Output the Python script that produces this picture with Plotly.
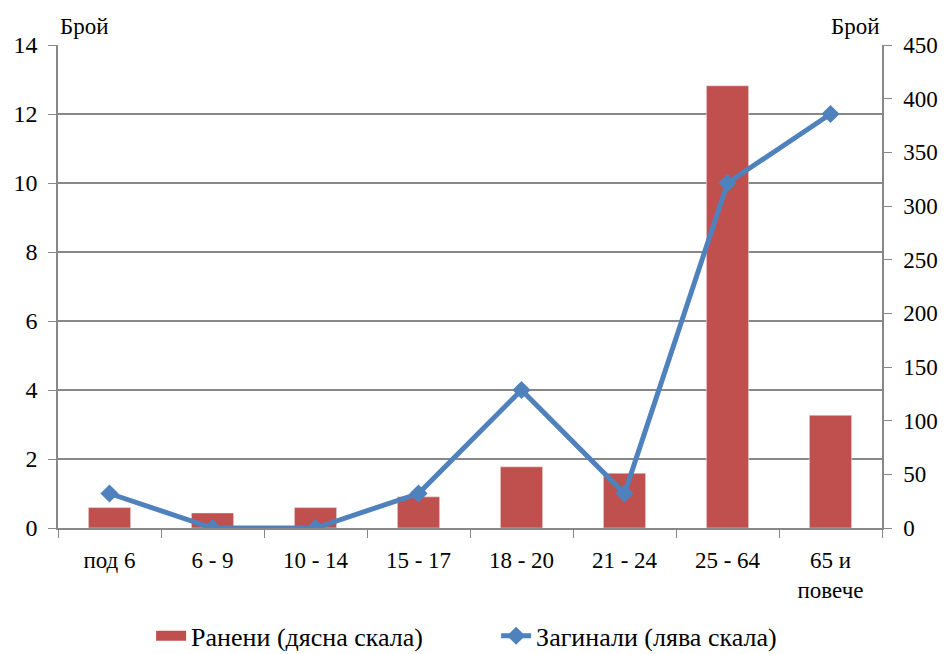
import plotly.graph_objects as go

categories = ["под 6", "6 - 9", "10 - 14", "15 - 17", "18 - 20", "21 - 24", "25 - 64", "65 и<br>повече"]
injured = [19, 14, 19, 29, 57, 51, 412, 105]   # Ранени (right scale)
killed = [1, 0, 0, 1, 4, 1, 10, 12]            # Загинали (left scale)

bar_name = "Ранени (дясна скала)"
line_name = "Загинали (лява скала)"

bar_color = "#C0504D"
line_color = "#4F81BD"
grid_color = "#888888"
font_family = "'Liberation Serif', 'Times New Roman', 'Liberation Sans', serif"

fig = go.Figure()
fig.add_trace(go.Bar(
    x=categories, y=injured, name=bar_name, showlegend=False,
    marker=dict(color=bar_color), yaxis="y", width=0.41,
))
# legend-only entry rendered as a wide red patch (like the reference legend key)
fig.add_trace(go.Scatter(
    x=[None], y=[None], name=bar_name, mode="lines", yaxis="y",
    line=dict(color=bar_color, width=14),
))
fig.add_trace(go.Scatter(
    x=categories, y=killed, name=line_name,
    mode="lines+markers", yaxis="y2",
    line=dict(color=line_color, width=5),
    marker=dict(symbol="diamond", size=14, color=line_color),
))

fig.update_layout(
    width=949, height=654,
    margin=dict(l=50, r=75, t=37, b=134),
    paper_bgcolor="white", plot_bgcolor="white",
    font=dict(family=font_family, size=22, color="black"),
    showlegend=True,
    legend=dict(orientation="h", x=0.113, xanchor="left",
                yref="container", y=0.04, yanchor="middle",
                font=dict(size=26), entrywidth=300, tracegroupgap=0),
    xaxis=dict(
        type="category", showline=True, linecolor=grid_color, linewidth=1.5,
        ticks="outside", tickson="boundaries", ticklen=8, tickcolor=grid_color,
        tickfont=dict(size=23), showgrid=False, automargin=False,
        ticklabelstandoff=11,
    ),
    yaxis=dict(
        side="right", range=[0, 450], dtick=50, showgrid=False,
        showline=True, linecolor=grid_color, linewidth=1.5,
        ticks="outside", ticklen=8, tickcolor=grid_color,
        tickfont=dict(size=23), zeroline=False, automargin=False,
        ticklabelstandoff=7,
    ),
    yaxis2=dict(
        overlaying="y", side="left", range=[0, 14], dtick=2,
        showgrid=True, gridcolor=grid_color, gridwidth=1.5,
        showline=True, linecolor=grid_color, linewidth=1.5,
        ticks="outside", ticklen=8, tickcolor=grid_color,
        tickfont=dict(size=24), zeroline=False, automargin=False,
        ticklabelstandoff=6,
    ),
    annotations=[
        dict(text="Брой", xref="paper", yref="paper", x=0, y=1.0, xanchor="left",
             yanchor="bottom", yshift=4, showarrow=False, font=dict(size=23)),
        dict(text="Брой", xref="paper", yref="paper", x=1, y=1.0, xanchor="right",
             yanchor="bottom", yshift=4, showarrow=False, font=dict(size=23)),
    ],
)

fig.write_html("out.html")
